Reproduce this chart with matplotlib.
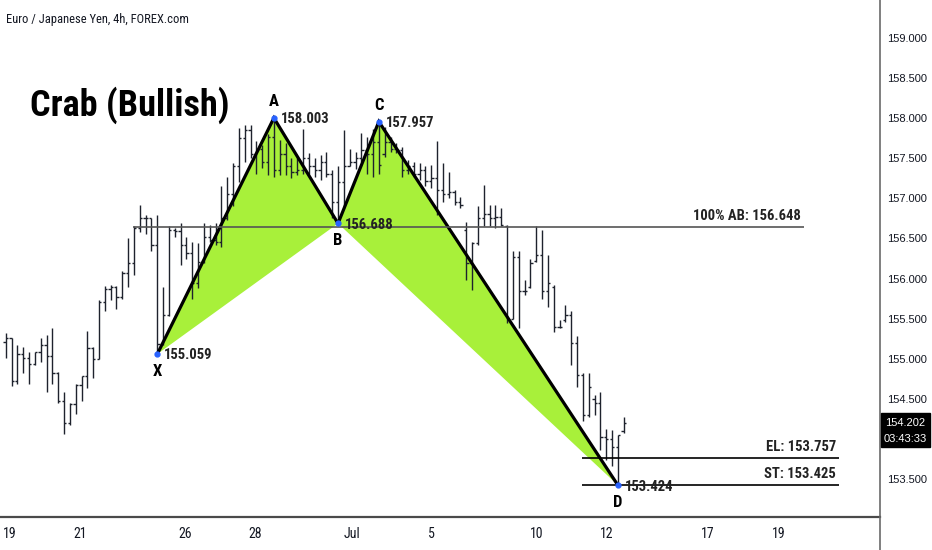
import matplotlib.pyplot as plt
from matplotlib.lines import Line2D
from matplotlib.patches import Rectangle

# ---------------------------------------------------------------
# EUR/JPY 4h bars (index 0 = first bar on the left edge)
opens = [155.21, 155.26, 154.72, 155.06, 155.01, 154.93, 155.08, 155.17, 155.04, 154.82,
         154.47, 154.20, 154.44, 154.67, 154.78, 155.13, 155.00, 155.71, 155.87, 155.89,
         155.77, 156.07, 156.20, 156.63, 156.76, 156.75, 156.42, 155.19, 155.55, 156.60,
         156.59, 156.42, 156.32, 155.94, 156.21, 156.52, 156.48, 156.46, 156.75, 157.06,
         157.40, 157.75, 157.85, 157.55, 157.62, 157.45, 157.76, 157.35, 157.55, 157.40,
         157.33, 157.36, 157.50, 157.40, 157.35, 157.45, 157.30, 156.95, 157.20, 157.40,
         157.45, 157.50, 157.60, 157.55, 157.70, 157.55, 157.70, 157.62, 157.60, 157.35,
         157.40, 157.30, 157.35, 157.22, 157.25, 157.10, 157.05, 157.08, 156.95, 156.60,
         156.20, 156.45, 156.75, 156.80, 156.75, 156.77, 156.65, 155.50, 156.27, 155.85,
         155.90, 156.22, 156.30, 155.85, 155.90, 155.40, 155.48, 155.55, 155.20, 154.80,
         154.30, 154.50, 154.45, 154.02, 154.00, 153.90, 154.10]
highs = [155.32, 155.26, 155.17, 155.15, 155.09, 155.09, 155.26, 155.30, 155.38, 154.84,
         154.59, 154.45, 154.69, 154.79, 155.35, 155.15, 155.73, 155.91, 155.92, 155.91,
         156.09, 156.50, 156.65, 156.92, 156.79, 156.76, 156.79, 155.90, 156.65, 156.63,
         156.69, 156.52, 156.46, 156.44, 156.69, 156.67, 156.69, 157.15, 157.27, 157.44,
         157.88, 157.92, 157.92, 157.72, 157.66, 157.80, 158.003, 157.73, 157.69, 157.50,
         157.50, 157.86, 157.56, 157.50, 157.54, 157.58, 157.36, 157.40, 157.85, 157.62,
         157.58, 157.81, 157.76, 157.86, 157.957, 157.89, 157.77, 157.69, 157.64, 157.48,
         157.46, 157.44, 157.40, 157.42, 157.71, 157.44, 157.33, 157.10, 157.02, 156.71,
         156.46, 156.90, 157.17, 156.92, 156.92, 156.88, 156.67, 156.34, 156.34, 155.98,
         156.25, 156.65, 156.61, 156.29, 155.92, 155.48, 155.67, 155.59, 155.28, 154.82,
         154.82, 154.55, 154.59, 154.13, 154.11, 154.05, 154.28]
lows = [155.01, 154.66, 154.69, 154.82, 154.69, 154.92, 154.96, 154.59, 154.69, 154.45,
        154.06, 154.18, 154.31, 154.47, 154.63, 154.76, 155.00, 155.59, 155.73, 155.62,
        155.75, 155.90, 156.04, 156.58, 156.56, 156.34, 155.059, 155.17, 155.53, 156.52,
        156.17, 156.25, 155.74, 155.88, 156.19, 156.46, 156.42, 156.40, 156.73, 156.90,
        157.21, 157.45, 157.50, 157.31, 157.38, 157.29, 157.27, 157.29, 157.29, 157.25,
        157.29, 157.30, 157.31, 157.27, 157.23, 157.27, 156.75, 156.688, 156.88, 157.40,
        157.37, 157.45, 157.30, 157.27, 157.31, 157.52, 157.58, 157.56, 157.27, 157.31,
        157.27, 157.23, 157.15, 157.13, 156.79, 156.96, 157.00, 156.92, 156.88, 155.98,
        155.86, 156.42, 156.65, 156.65, 156.63, 156.65, 155.44, 155.50, 155.38, 155.80,
        155.88, 156.21, 155.75, 155.65, 155.34, 155.38, 155.46, 154.92, 154.65, 154.22,
        154.28, 154.30, 153.86, 153.74, 153.66, 153.424, 154.07]
closes = [155.26, 154.72, 155.06, 155.01, 154.93, 155.08, 155.17, 155.04, 154.82, 154.47,
          154.20, 154.44, 154.67, 154.78, 155.13, 155.00, 155.71, 155.87, 155.89, 155.77,
          156.07, 156.20, 156.63, 156.76, 156.75, 156.42, 155.19, 155.55, 156.60, 156.59,
          156.42, 156.32, 155.94, 156.21, 156.52, 156.48, 156.46, 156.75, 157.06, 157.40,
          157.75, 157.85, 157.55, 157.62, 157.45, 157.76, 157.35, 157.55, 157.40, 157.33,
          157.36, 157.50, 157.40, 157.35, 157.45, 157.30, 156.95, 157.20, 157.40, 157.45,
          157.50, 157.60, 157.55, 157.70, 157.42, 157.70, 157.62, 157.60, 157.35, 157.40,
          157.30, 157.35, 157.22, 157.25, 157.10, 157.05, 157.08, 156.95, 156.92, 156.20,
          156.45, 156.75, 156.80, 156.75, 156.77, 156.67, 155.50, 156.27, 155.85, 155.85,
          156.20, 156.30, 155.85, 155.95, 155.40, 155.40, 155.55, 155.20, 154.80, 154.30,
          154.65, 154.45, 154.02, 154.00, 153.90, 154.05, 154.20]

# harmonic pattern points
pattern_names = ["X", "A", "B", "C", "D"]
pattern_bars = [26, 46, 57, 64, 105]
pattern_prices = [155.059, 158.003, 156.688, 157.957, 153.424]

# horizontal levels
level_names = ["100% AB", "EL", "ST"]
level_prices = [156.648, 153.757, 153.425]
level_start = [21.8, 98.9, 98.9]
level_end = [136.9, 142.9, 142.9]

# axis labels
date_labels = ["19", "21", "26", "28", "Jul", "5", "10", "12", "17", "19"]
date_pos = [0.7, 12.7, 30.8, 42.8, 59.4, 73.1, 91.1, 103.1, 120.5, 132.6]
price_ticks = [153.5, 154.5, 155.0, 155.5, 156.0, 156.5, 157.0, 157.5, 158.0, 158.5, 159.0]
last_price = 154.202
countdown = "03:43:33"

# ---------------------------------------------------------------
NARROW = ["Roboto Condensed", "DejaVu Sans"]
GREEN = "#a8f03a"
BAR_COL = "#1e222d"
TXT = "#131722"

fig = plt.figure(figsize=(9.32, 5.5), dpi=100)
ax = fig.add_axes([0, 33 / 550, 880 / 932, 517 / 550])
ax.set_xlim(-0.98, 149.96)
ax.set_ylim(153.027, 159.474)

# green triangles XAB and BCD
ax.fill(pattern_bars[0:3], pattern_prices[0:3], color=GREEN, lw=0, zorder=1)
ax.fill(pattern_bars[2:5], pattern_prices[2:5], color=GREEN, lw=0, zorder=1)

# OHLC bars
idx = list(range(len(closes)))
ax.vlines(idx, lows, highs, color=BAR_COL, lw=1.0, zorder=2)
ax.hlines(opens, [i - 0.38 for i in idx], idx, color=BAR_COL, lw=1.0, zorder=2)
ax.hlines(closes, idx, [i + 0.38 for i in idx], color=BAR_COL, lw=1.0, zorder=2)

# pattern legs
ax.plot(pattern_bars, pattern_prices, color="black", lw=2.3, zorder=3,
        solid_joinstyle="miter")
ax.plot(pattern_bars, pattern_prices, "o", color="#2962ff", ms=3.5, zorder=4)

for name, b, p in zip(pattern_names, pattern_bars, pattern_prices):
    dy = 11.5 if name in ("A", "C") else -12.5
    ax.annotate(name, (b, p), xytext=(0, dy), textcoords="offset points",
                ha="center", va="center", fontsize=12, fontweight="bold",
                family=NARROW, fontstretch="condensed", color="black", zorder=5)
    ax.annotate(f"{p:.3f}", (b, p), xytext=(5, -1), textcoords="offset points",
                ha="left", va="center", fontsize=10.5, fontweight="bold",
                family=NARROW, fontstretch="condensed", color="#222222", zorder=5)

# levels
for name, p, x0, x1 in zip(level_names, level_prices, level_start, level_end):
    col = "#555555" if name.startswith("100") else "black"
    ax.hlines(p, x0, x1, color=col, lw=1.2, zorder=3)
    ax.annotate(f"{name}: {p:.3f}", (x1, p), xytext=(-2, 8), textcoords="offset points",
                ha="right", va="center", fontsize=10.5, fontweight="bold",
                family=NARROW, fontstretch="condensed", color="#222222", zorder=5)

# titles
fig.text(6 / 932, 1 - 19 / 550, "Euro / Japanese Yen, 4h, FOREX.com", ha="left",
         va="center", fontsize=9, family=NARROW, fontstretch="condensed", color=TXT)
fig.text(30 / 932, 1 - 105 / 550, "Crab (Bullish)", ha="left", va="center",
         fontsize=26, fontweight="bold", family=NARROW, fontstretch="condensed",
         color="black")

# axes styling
for s in ("top", "left"):
    ax.spines[s].set_visible(False)
ax.spines["bottom"].set_color("#4a4a4a")
ax.spines["bottom"].set_linewidth(1.6)
ax.spines["right"].set_color("#6a6a6a")
ax.spines["right"].set_linewidth(1.2)
fig.add_artist(Line2D([880 / 932, 880 / 932], [0, 33 / 550], color="#6a6a6a", lw=1.2))

ax.set_xticks(date_pos)
ax.set_xticklabels(date_labels, family=NARROW, fontstretch="condensed", fontsize=10,
                   color=TXT)
ax.tick_params(axis="x", length=0, pad=7)
ax.yaxis.tick_right()
ax.set_yticks(price_ticks)
ax.set_yticklabels([f"{t:.3f}" for t in price_ticks], family="Liberation Sans",
                   fontsize=8, color=TXT)
ax.tick_params(axis="y", length=0, pad=5)

# last price box on the price scale
y_last = ax.transData.transform((0, last_price))[1] / fig.dpi / 5.5
fig.add_artist(Rectangle((881 / 932, y_last - 24 / 550), 49 / 932, 34 / 550,
                         transform=fig.transFigure, color="black", zorder=10))
fig.text(905 / 932, y_last, f"{last_price:.3f}", ha="center", va="center",
         fontsize=8, family="Liberation Sans", color="white", zorder=11)
fig.text(905 / 932, y_last - 16 / 550, countdown, ha="center", va="center",
         fontsize=8, family="Liberation Sans", color="white", zorder=11)

fig.savefig("out.png", dpi=100)
